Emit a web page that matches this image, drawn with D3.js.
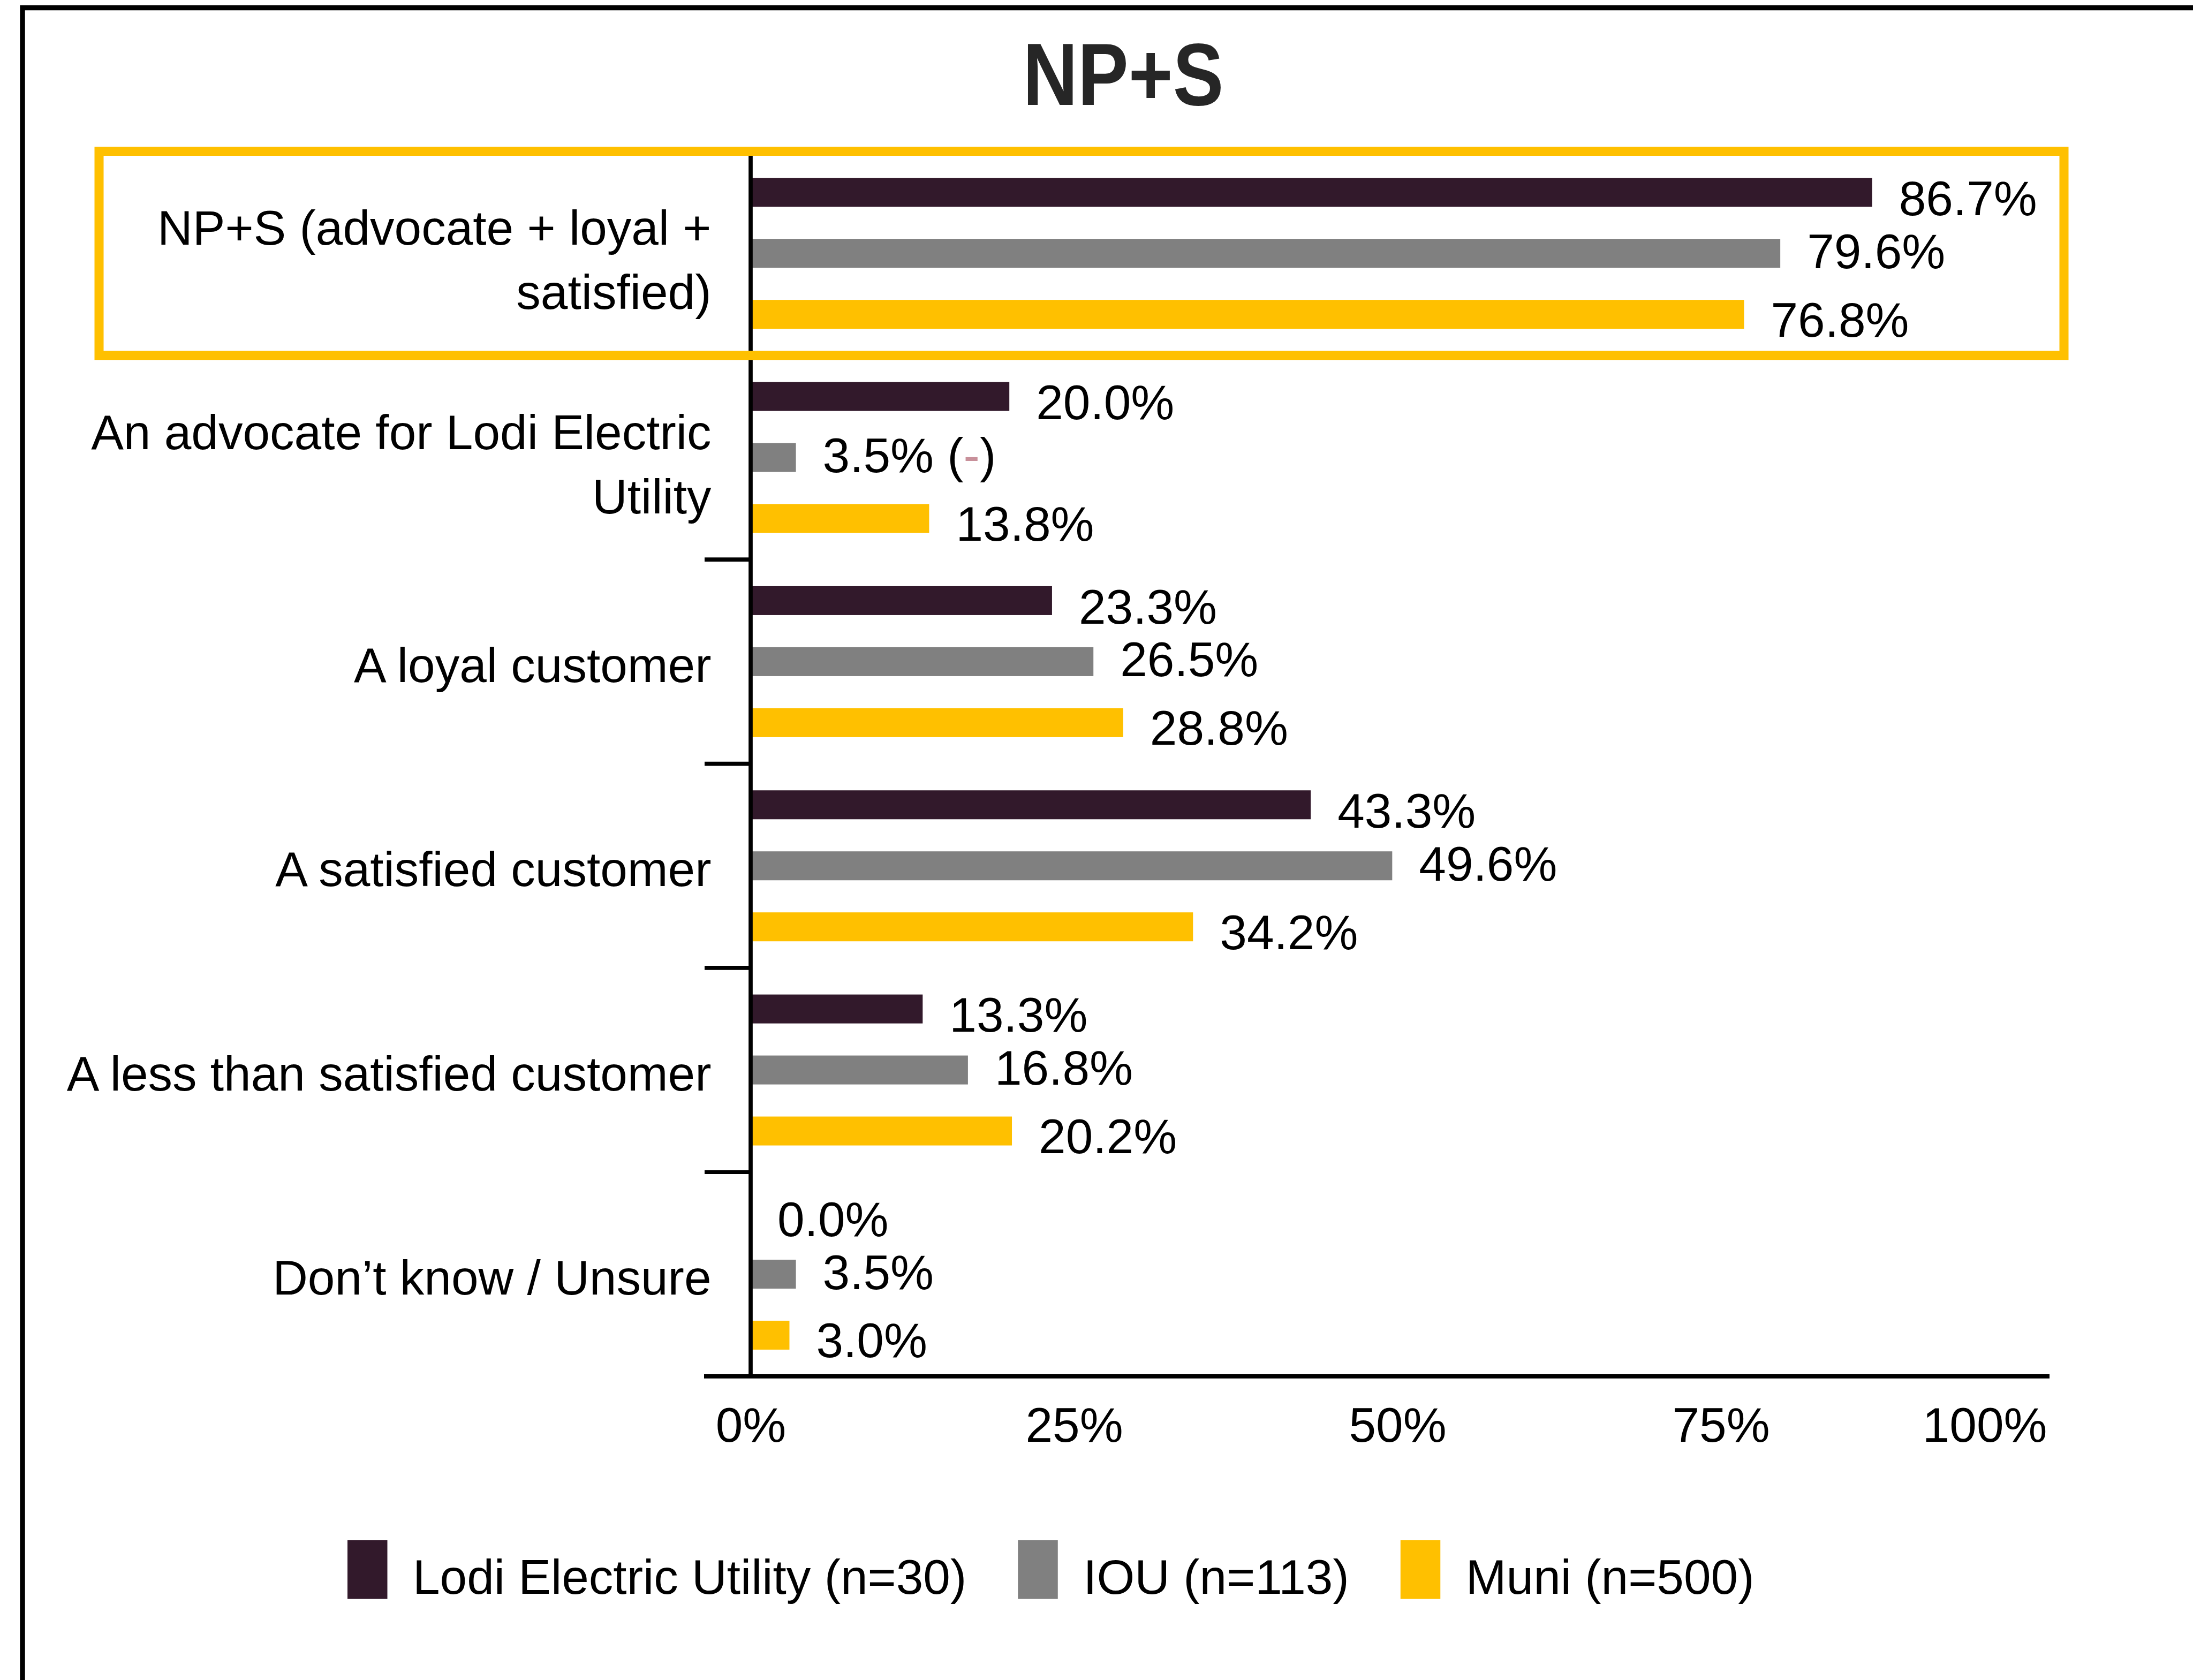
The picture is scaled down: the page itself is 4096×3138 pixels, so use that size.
<!DOCTYPE html>
<html>
<head>
<meta charset="utf-8">
<script src="https://cdn.jsdelivr.net/npm/d3@7"></script>
<style>
  body { margin: 0; background: #fff; }
  text { font-family: "Liberation Sans", Arial, sans-serif; }
</style>
</head>
<body>
<div id="chart"></div>
<script>
// Chart data
const categories = [
    "NP+S (advocate + loyal + satisfied)",
    "An advocate for Lodi Electric Utility",
    "A loyal customer",
    "A satisfied customer",
    "A less than satisfied customer",
    "Don’t know / Unsure"
];
const categoryLines = [
    ["NP+S (advocate + loyal +", "satisfied)"],
    ["An advocate for Lodi Electric", "Utility"],
    ["A loyal customer"],
    ["A satisfied customer"],
    ["A less than satisfied customer"],
    ["Don’t know / Unsure"]
];
const series = ["Lodi Electric Utility (n=30)", "IOU (n=113)", "Muni (n=500)"];
const lodiValues = [86.7, 20.0, 23.3, 43.3, 13.3, 0.0];
const iouValues = [79.6, 3.5, 26.5, 49.6, 16.8, 3.5];
const muniValues = [76.8, 13.8, 28.8, 34.2, 20.2, 3.0];
const iouNotes = ["", "-", "", "", "", ""]; // significance marker shown as "(-)"
const xTicks = [0, 25, 50, 75, 100];
const chartTitle = "NP+S";

const seriesValues = [lodiValues, iouValues, muniValues];
const colors = ["#32192b", "#808080", "#ffc000"];

const W = 4096, H = 3138;
const fontSize = 91;

const svg = d3.select("#chart")
    .append("svg")
    .attr("width", W)
    .attr("height", H);

svg.append("rect").attr("width", W).attr("height", H).attr("fill", "#fff");

// frame: only top and left edges are visible in the original
svg.append("path")
    .attr("d", `M42,${H} V14.5 H${W}`)
    .attr("fill", "none")
    .attr("stroke", "#000")
    .attr("stroke-width", 9.4);

// Title
svg.append("text")
    .attr("x", 2098)
    .attr("y", 196)
    .attr("text-anchor", "middle")
    .attr("font-weight", "bold")
    .attr("font-size", 165)
    .attr("fill", "#262626")
    .attr("textLength", 375)
    .attr("lengthAdjust", "spacingAndGlyphs")
    .text(chartTitle);

// Scales
const x = d3.scaleLinear().domain([0, 100]).range([1402, 3818]);
const y = d3.scaleBand().domain(categories).range([282.5, 2570.6]);
const yInner = d3.scaleBand()
    .domain(series)
    .range([0, y.bandwidth()])
    .paddingInner(0.526)
    .paddingOuter(0.436);

// Bars
const barData = [];
series.forEach((s, i) => {
    categories.forEach((c, j) => {
        barData.push({ series: s, si: i, category: c, cj: j, value: seriesValues[i][j] });
    });
});

svg.append("g")
    .selectAll("rect")
    .data(barData)
    .join("rect")
    .attr("x", x(0))
    .attr("y", d => y(d.category) + yInner(d.series))
    .attr("width", d => x(d.value) - x(0))
    .attr("height", yInner.bandwidth())
    .attr("fill", d => colors[d.si]);

// Value labels
const labelShift = [10, -5, 9];
const labels = svg.append("g")
    .attr("font-size", fontSize)
    .attr("fill", "#000")
    .selectAll("text")
    .data(barData)
    .join("text")
    .attr("x", d => x(d.value) + 50)
    .attr("y", d => y(d.category) + yInner(d.series) + yInner.bandwidth() / 2 + 32.6 + labelShift[d.si])
    .text(d => d.value.toFixed(1) + "%");

labels.filter(d => d.si === 1 && iouNotes[d.cj] !== "")
    .each(function(d) {
        const t = d3.select(this);
        t.append("tspan").text(" (");
        t.append("tspan").attr("fill", "#c8909a").text(iouNotes[d.cj]);
        t.append("tspan").text(")");
    });

// Vertical axis line and group separators
svg.append("line")
    .attr("x1", x(0)).attr("x2", x(0))
    .attr("y1", y.range()[0]).attr("y2", y.range()[1])
    .attr("stroke", "#000")
    .attr("stroke-width", 7.7);

svg.append("g")
    .selectAll("line")
    .data(categories.slice(1))
    .join("line")
    .attr("x1", x(0) - 86).attr("x2", x(0))
    .attr("y1", d => y(d)).attr("y2", d => y(d))
    .attr("stroke", "#000")
    .attr("stroke-width", 7.7);

// Horizontal axis line
svg.append("line")
    .attr("x1", x(0) - 87).attr("x2", x(100) + 10)
    .attr("y1", y.range()[1]).attr("y2", y.range()[1])
    .attr("stroke", "#000")
    .attr("stroke-width", 8.5);

// X axis tick labels
const xAxis = svg.append("g")
    .attr("transform", `translate(0, ${y.range()[1]})`)
    .call(d3.axisBottom(x).tickValues(xTicks).tickFormat(d => d + "%").tickSize(0).tickPadding(58));
xAxis.select(".domain").remove();
xAxis.attr("font-size", fontSize).attr("font-family", null);
xAxis.selectAll("text").attr("fill", "#000");
xAxis.selectAll(".tick").filter(d => d === 100)
    .select("text")
    .attr("text-anchor", "end")
    .attr("x", 5);

// Category labels
const catG = svg.append("g")
    .attr("font-size", fontSize)
    .attr("fill", "#000")
    .attr("text-anchor", "end");

categories.forEach((c, j) => {
    const cy = y(c) + y.bandwidth() / 2;
    const lines = categoryLines[j];
    const t = catG.append("text").attr("x", 1328.5);
    if (lines.length === 1) {
        t.attr("y", cy + 38).text(lines[0]);
    } else {
        lines.forEach((ln, k) => {
            t.append("tspan")
                .attr("x", 1328.5)
                .attr("y", cy - 16 + k * 120)
                .text(ln);
        });
    }
});

// Highlight box around the NP+S group
svg.append("rect")
    .attr("x", 185)
    .attr("y", y(categories[0]))
    .attr("width", 3670)
    .attr("height", y.bandwidth())
    .attr("fill", "none")
    .attr("stroke", "#ffc000")
    .attr("stroke-width", 17);

// Legend
const legend = svg.append("g").attr("font-size", fontSize);
let lx = 649;
series.forEach((s, i) => {
    legend.append("rect")
        .attr("x", lx)
        .attr("y", 2877)
        .attr("width", 74.5)
        .attr("height", 109.6)
        .attr("fill", colors[i]);
    const t = legend.append("text")
        .attr("x", lx + 122)
        .attr("y", 2977)
        .attr("fill", "#000")
        .text(s);
    lx = lx + 122 + t.node().getComputedTextLength() + 96;
});
</script>
</body>
</html>
